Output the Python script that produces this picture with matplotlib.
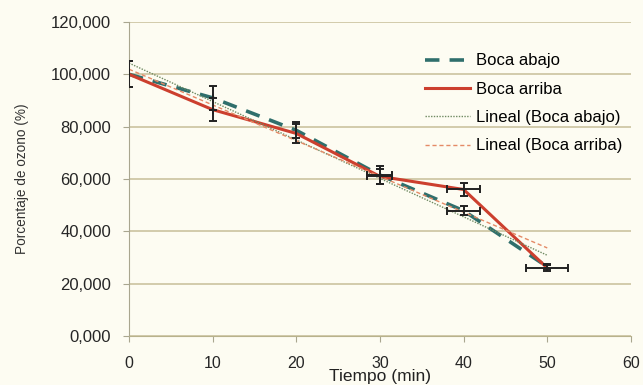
import numpy as np
from matplotlib import pyplot as plt

plt.rcParams['font.family'] = ['Liberation Sans', 'DejaVu Sans']

tiempo = [0, 10, 20, 30, 40, 50]
boca_abajo = [100.0, 91.0, 78.6, 61.5, 47.9, 26.5]
boca_arriba = [100.0, 86.5, 77.4, 61.0, 56.0, 26.0]
err_abajo_y = [5.0, 4.5, 3.0, 3.5, 1.8, 1.0]
err_arriba_y = [5.0, 4.5, 3.5, 3.0, 2.5, 1.0]
err_abajo_x = [0, 0, 0, 1.5, 2.0, 0]
err_arriba_x = [0, 0, 0, 1.5, 2.0, 2.5]
yticks = [0, 20, 40, 60, 80, 100, 120]
ytick_labels = ["0,000", "20,000", "40,000", "60,000", "80,000", "100,000", "120,000"]
xticks = [0, 10, 20, 30, 40, 50, 60]

bg = "#fdfcf2"
fig = plt.figure(figsize=(6.43, 3.85), dpi=100, facecolor=bg)
ax = fig.add_axes([0.2006, 0.127, 0.7806, 0.816])
ax.set_facecolor(bg)

# linear trendlines, fitted from the data
p1 = np.polyfit(tiempo, boca_abajo, 1)
p2 = np.polyfit(tiempo, boca_arriba, 1)
xt = np.array([tiempo[0], tiempo[-1]])

ax.plot(tiempo, boca_abajo, color="#2f6f6c", linewidth=2.6, dashes=(4, 2.8), label="Boca abajo", zorder=3)
ax.plot(tiempo, boca_arriba, color="#cc3f2e", linewidth=2.2, label="Boca arriba", zorder=4)
ax.plot(xt, np.polyval(p1, xt), color="#6f8a62", linewidth=1.0, linestyle=(0, (1, 1)), label="Lineal (Boca abajo)", zorder=5)
ax.plot(xt, np.polyval(p2, xt), color="#e48a66", linewidth=1.0, linestyle=(0, (3, 2)), label="Lineal (Boca arriba)", zorder=5)

ax.errorbar(tiempo, boca_abajo, yerr=err_abajo_y, xerr=err_abajo_x, fmt="none", ecolor="#222222", elinewidth=1.4, capsize=3, capthick=1.4, zorder=6)
ax.errorbar(tiempo, boca_arriba, yerr=err_arriba_y, xerr=err_arriba_x, fmt="none", ecolor="#222222", elinewidth=1.4, capsize=3, capthick=1.4, zorder=6)

ax.set_xlim(0, 60)
ax.set_ylim(0, 120)
ax.set_xticks(xticks)
ax.set_yticks(yticks)
ax.set_yticklabels(ytick_labels)
ax.grid(axis="y", color="#cbc3a0", linewidth=1.2)
ax.set_axisbelow(True)
for s in ["top", "right"]:
    ax.spines[s].set_visible(False)
ax.spines["left"].set_color("#a9a68f")
ax.spines["bottom"].set_color("#b8b28c")
ax.tick_params(axis="both", colors="#a9a68f", labelcolor="#262626", labelsize=12, length=4)
ax.tick_params(axis="x", pad=10, labelsize=11.5)
ax.tick_params(axis="y", pad=9)

ax.set_ylabel("Porcentaje de ozono (%)", fontsize=9.8, color="#333333", labelpad=16)
ax.set_xlabel("Tiempo (min)", fontsize=12.5, color="#222222")
ax.xaxis.set_label_coords(0.5, -0.13)
ax.xaxis.label.set_va("center")

ax.legend(loc="upper left", bbox_to_anchor=(0.59, 0.9), frameon=False, fontsize=12,
          handlelength=2.7, labelspacing=0.8, handletextpad=0.35, borderpad=0, borderaxespad=0)

fig.savefig("out.png", dpi=100, facecolor=bg)
